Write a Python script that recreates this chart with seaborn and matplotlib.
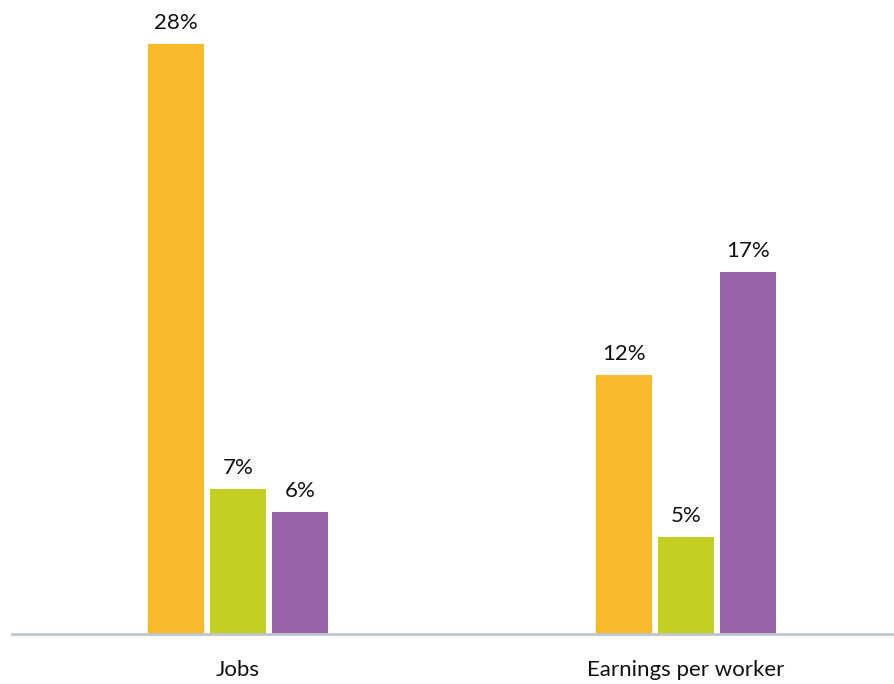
import matplotlib
matplotlib.use("Agg")
import matplotlib.pyplot as plt
import pandas as pd
import seaborn as sns

# Values (percent change)
categories = ["Jobs", "Earnings per worker"]
series = ["Series 1", "Series 2", "Series 3"]
jobs = [28.0, 6.9, 5.8]
earnings = [12.3, 4.6, 17.2]
colors = ["#FBB92E", "#C3CF22", "#9763A9"]

df = pd.DataFrame({
    "category": [c for c in categories for _ in series],
    "series": series * len(categories),
    "value": jobs + earnings,
})

sns.set_theme(style="white")
plt.rcParams["font.family"] = ["Lato", "DejaVu Sans"]

fig = plt.figure(figsize=(8.94, 6.84), dpi=100)
ax = fig.add_axes([0.0134, 0.0731, 0.9866, 0.9269])

sns.barplot(df, x="category", y="value", hue="series", order=categories,
            hue_order=series, palette=colors, width=0.415, gap=0.1,
            saturation=1, linewidth=0, legend=False, ax=ax)

for cont in ax.containers:
    for bar in cont:
        v = bar.get_height()
        ax.annotate(f"{v:.0f}%", (bar.get_x() + bar.get_width() / 2, v),
                    xytext=(0, 8), textcoords="offset points",
                    ha="center", va="bottom", fontsize=16, color="#111111")

ax.set_xlim(-0.504, 1.464)
ax.set_ylim(0, 30.1)
ax.set(xlabel="", ylabel="", yticks=[])
sns.despine(ax=ax, left=True)
ax.spines["bottom"].set_color("#BFC6CE")
ax.spines["bottom"].set_linewidth(2)
ax.tick_params(axis="x", length=0, pad=19, labelsize=16, labelcolor="#111111")

fig.savefig("out.png", dpi=100)
